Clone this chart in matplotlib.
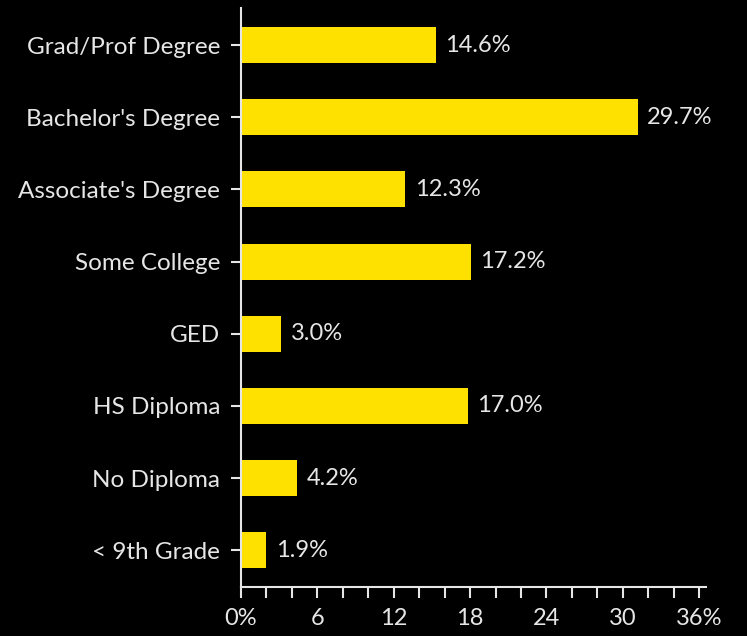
import matplotlib
matplotlib.use('Agg')
import matplotlib.pyplot as plt

# datos (de abajo hacia arriba)
categories = ['< 9th Grade', 'No Diploma', 'HS Diploma', 'GED',
              'Some College', "Associate's Degree", "Bachelor's Degree", 'Grad/Prof Degree']
values = [1.9, 4.2, 17.0, 3.0, 17.2, 12.3, 29.7, 14.6]

x_ticks = [0, 6, 12, 18, 24, 30, 36]
x_ticklabels = ['0%', '6', '12', '18', '24', '30', '36%']
x_minor_ticks = list(range(0, 37, 2))

bar_color = '#FFE100'
text_color = '#E6E6E6'

# en el original la escala del eje queda algo comprimida respecto a las barras
axis_scale = 1.05

plt.rcParams['font.family'] = ['Lato', 'DejaVu Sans']

fig = plt.figure(figsize=(7.47, 6.36), dpi=100, facecolor='black')
ax = fig.add_axes([0.3226, 0.077, 0.6225, 0.910])
ax.set_facecolor('black')

pos = range(len(categories))
ax.barh(pos, values, height=0.5, color=bar_color)

for p, v in zip(pos, values):
    ax.text(v + 0.7, p, f'{v:.1f}%', va='center', ha='left',
            color=text_color, fontsize=17)

ax.set_yticks(list(pos))
ax.set_yticklabels(categories)
ax.set_ylim(-0.51, 7.51)
ax.set_xlim(0, 34.8)

for s in ['top', 'right', 'bottom']:
    ax.spines[s].set_visible(False)
ax.spines['left'].set_color(text_color)
ax.spines['left'].set_linewidth(1.5)

ax.set_xticks([])
ax.tick_params(axis='y', colors=text_color, labelsize=17.5, width=1.5, length=7, pad=8)

# eje x secundario con las marcas del original
sec = ax.secondary_xaxis('bottom', functions=(lambda x: x * axis_scale, lambda x: x / axis_scale))
sec.set_xticks(x_ticks)
sec.set_xticklabels(x_ticklabels)
sec.set_xticks(x_minor_ticks, minor=True)
sec.spines['bottom'].set_color(text_color)
sec.spines['bottom'].set_linewidth(1.5)
sec.tick_params(axis='x', which='both', colors=text_color, labelsize=17, width=1.5, length=8)
sec.tick_params(axis='x', which='major', pad=7)

fig.savefig('out.png', dpi=100, facecolor='black')
